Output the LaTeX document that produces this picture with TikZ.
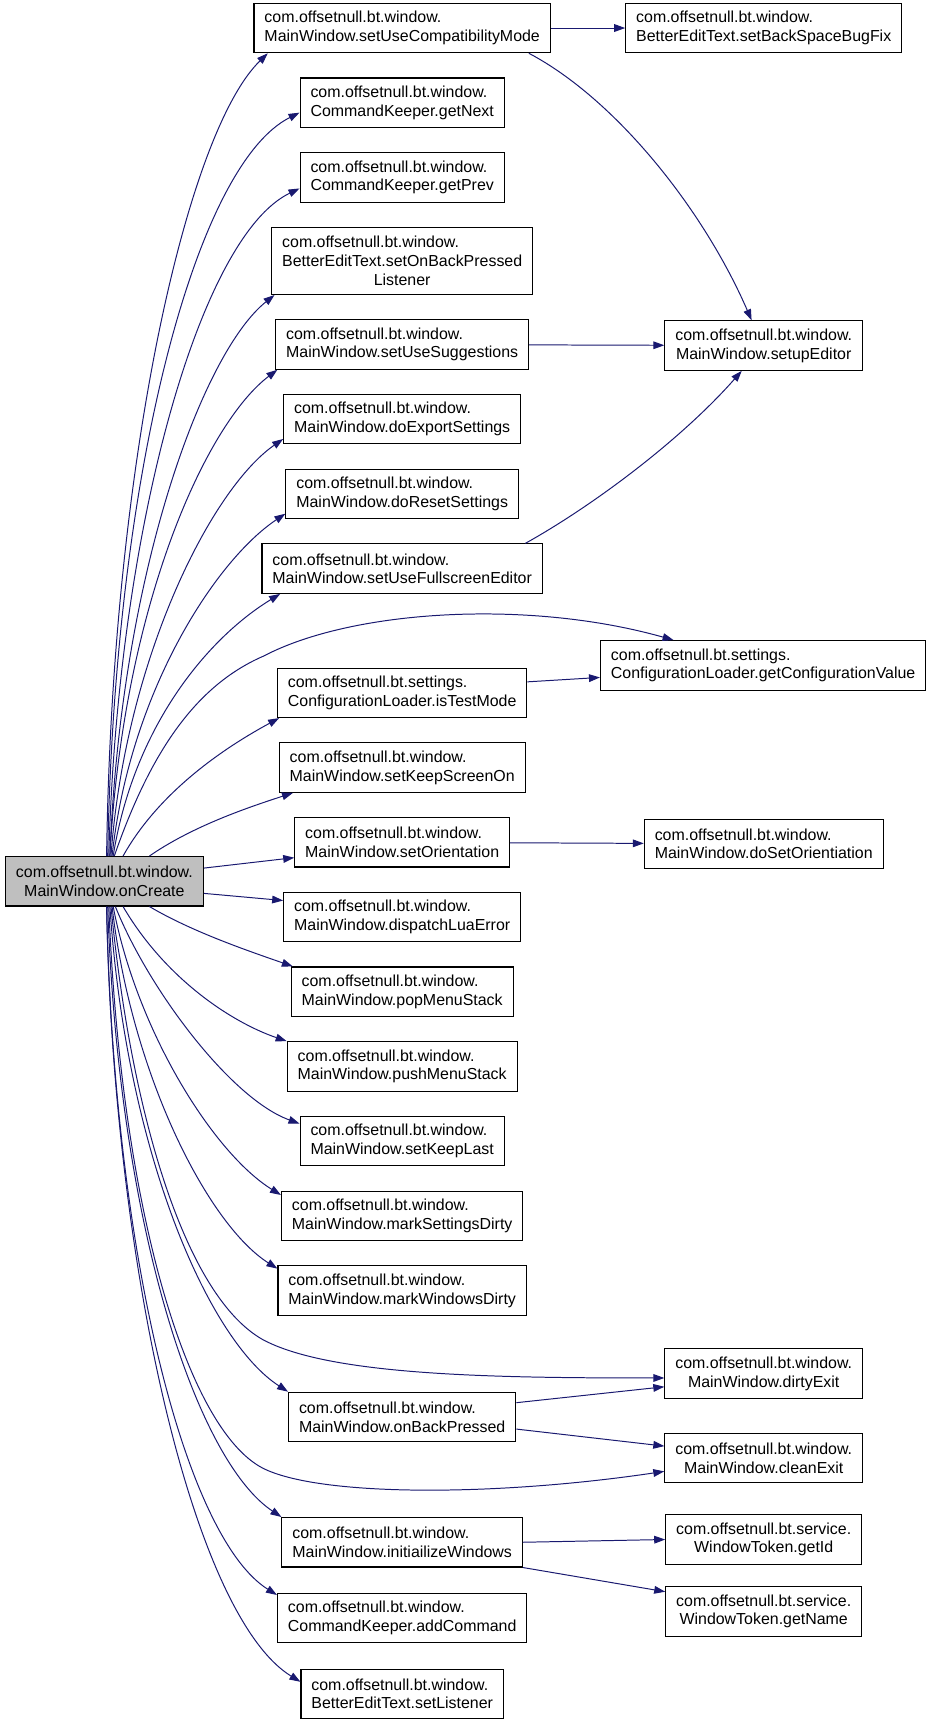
\documentclass[tikz,border=0pt]{standalone}
\usepackage{fontspec}
\setmainfont{Liberation Sans}
\usetikzlibrary{positioning, arrows.meta}
\definecolor{edgeblue}{HTML}{191970}

\begin{document}
\begin{tikzpicture}[
    x=1pt, y=-1pt,
    % uniform gap between the boxes of the middle column
    node distance=22pt,
    box/.style={rectangle, draw, fill=white, line width=1pt, align=left,
        inner xsep=9.5pt, inner ysep=5pt, minimum height=45pt,
        font=\fontsize{14.5}{17}\selectfont},
    cbox/.style={box, align=center},
    root/.style={cbox, fill=gray!50},
    call/.style={-{Triangle[length=10pt,width=7pt]}, draw=edgeblue, line width=0.9pt}
]
    \fill[white] (0,0) rectangle (849,1568);

    \node[root] (main) at (95,802) {com.offsetnull.bt.window.\\MainWindow.onCreate};

    % middle column
    \node[box] (compat) at (366,25.5) {com.offsetnull.bt.window.\\MainWindow.setUseCompatibilityMode};
    \node[box] (getnext) [below=of compat] {com.offsetnull.bt.window.\\CommandKeeper.getNext};
    \node[box] (getprev) [below=of getnext] {com.offsetnull.bt.window.\\CommandKeeper.getPrev};
    \node[cbox, minimum height=61pt] (backlist) [below=of getprev] {\rlap{com.offsetnull.bt.window.}\phantom{BetterEditText.setOnBackPressed}\\BetterEditText.setOnBackPressed\\Listener};
    \node[box] (suggest) [below=of backlist] {com.offsetnull.bt.window.\\MainWindow.setUseSuggestions};
    \node[box] (export) [below=of suggest] {com.offsetnull.bt.window.\\MainWindow.doExportSettings};
    \node[box] (reset) [below=of export] {com.offsetnull.bt.window.\\MainWindow.doResetSettings};
    \node[box] (fullscr) [below=of reset] {com.offsetnull.bt.window.\\MainWindow.setUseFullscreenEditor};
    \node[box] (testmode) [below=67pt of fullscr] {com.offsetnull.bt.settings.\\ConfigurationLoader.isTestMode};
    \node[box] (screenon) [below=of testmode] {com.offsetnull.bt.window.\\MainWindow.setKeepScreenOn};
    \node[box] (orient) [below=of screenon] {com.offsetnull.bt.window.\\MainWindow.setOrientation};
    \node[box] (luaerr) [below=of orient] {com.offsetnull.bt.window.\\MainWindow.dispatchLuaError};
    \node[box] (popmenu) [below=of luaerr] {com.offsetnull.bt.window.\\MainWindow.popMenuStack};
    \node[box] (pushmenu) [below=of popmenu] {com.offsetnull.bt.window.\\MainWindow.pushMenuStack};
    \node[box] (keeplast) [below=of pushmenu] {com.offsetnull.bt.window.\\MainWindow.setKeepLast};
    \node[box] (setdirty) [below=of keeplast] {com.offsetnull.bt.window.\\MainWindow.markSettingsDirty};
    \node[box] (windirty) [below=of setdirty] {com.offsetnull.bt.window.\\MainWindow.markWindowsDirty};
    \node[box] (backpress) [below=69pt of windirty] {com.offsetnull.bt.window.\\MainWindow.onBackPressed};
    \node[box] (initwin) [below=68pt of backpress] {com.offsetnull.bt.window.\\MainWindow.initiailizeWindows};
    \node[box] (addcmd) [below=23pt of initwin] {com.offsetnull.bt.window.\\CommandKeeper.addCommand};
    \node[box] (setlist) [below=23pt of addcmd] {com.offsetnull.bt.window.\\BetterEditText.setListener};

    % right column
    \node[box] (bugfix) at (695,25.5) {com.offsetnull.bt.window.\\BetterEditText.setBackSpaceBugFix};
    \node[cbox] (editor) at (695,314.5) {com.offsetnull.bt.window.\\MainWindow.setupEditor};
    \node[box] (getconf) at (694.5,605.5) {com.offsetnull.bt.settings.\\ConfigurationLoader.getConfigurationValue};
    \node[box] (doorient) at (695,768) {com.offsetnull.bt.window.\\MainWindow.doSetOrientiation};
    \node[cbox] (dirtyexit) at (695,1250) {com.offsetnull.bt.window.\\MainWindow.dirtyExit};
    \node[cbox] (cleanexit) at (695,1327) {com.offsetnull.bt.window.\\MainWindow.cleanExit};
    \node[cbox] (getid) at (695,1401) {com.offsetnull.bt.service.\\WindowToken.getId};
    \node[cbox] (getname) at (695,1466.5) {com.offsetnull.bt.service.\\WindowToken.getName};

    % calls going up
    \draw[call] ([xshift=2pt]main.north) .. controls (102,420) and (170,120) .. ([xshift=13pt]compat.south west);
    \draw[call] ([xshift=3pt]main.north) .. controls (104,430) and (178,150) .. ([yshift=-9pt]getnext.west);
    \draw[call] ([xshift=4pt]main.north) .. controls (107,480) and (182,215) .. ([yshift=-10pt]getprev.west);
    \draw[call] ([xshift=5pt]main.north) .. controls (110,520) and (185,320) .. ([xshift=3pt]backlist.south west);
    \draw[call] ([xshift=5pt]main.north) .. controls (112,550) and (188,385) .. ([xshift=2pt]suggest.south west);
    \draw[call] ([xshift=6pt]main.north) .. controls (114,600) and (192,445) .. ([yshift=5pt]export.south west);
    \draw[call] ([xshift=7pt]main.north) .. controls (118,630) and (196,510) .. ([yshift=5pt]reset.south west);
    \draw[call] ([xshift=8pt]main.north) .. controls (122,660) and (190,580) .. ([xshift=17pt]fullscr.south west);
    \draw[call] ([xshift=9pt]main.north) .. controls (135,690) and (175,625) .. (240,597)
        .. controls (320,555) and (480,545) .. ([xshift=67pt]getconf.north west);
    \draw[call] ([xshift=17pt]main.north) .. controls (145,720) and (205,680) .. ([xshift=2pt]testmode.south west);
    \draw[call] ([xshift=41pt]main.north) .. controls (175,752) and (225,735) .. ([xshift=13pt]screenon.south west);
    \draw[call] ([yshift=12pt]main.east) -- ([yshift=9pt]orient.south west);
    \draw[call] ([yshift=-11pt]main.east) -- ([yshift=-8pt]luaerr.north west);

    % calls going down
    \draw[call] ([xshift=41pt]main.south) .. controls (175,848) and (225,865) .. ([xshift=2pt]popmenu.north west);
    \draw[call] ([xshift=17pt]main.south) .. controls (150,890) and (210,930) .. (pushmenu.north west);
    \draw[call] ([xshift=10pt]main.south) .. controls (135,900) and (210,1000) .. ([yshift=-7pt]keeplast.north west);
    \draw[call] ([xshift=8pt]main.south) .. controls (125,940) and (195,1050) .. ([yshift=-4pt]setdirty.north west);
    \draw[call] ([xshift=7pt]main.south) .. controls (120,980) and (190,1115) .. ([yshift=-3pt]windirty.north west);
    \draw[call] ([xshift=6pt]main.south) .. controls (120,1020) and (170,1180) .. (239,1219)
        .. controls (300,1252) and (450,1254) .. ([yshift=-4pt]dirtyexit.west);
    \draw[call] ([xshift=5pt]main.south) .. controls (115,1050) and (190,1220) .. (backpress.north west);
    \draw[call] ([xshift=4pt]main.south) .. controls (110,1100) and (170,1300) .. (239,1336)
        .. controls (290,1362) and (450,1362) .. ([yshift=-12pt]cleanexit.west);
    \draw[call] ([xshift=3pt]main.south) .. controls (108,1120) and (180,1330) .. (initwin.north west);
    \draw[call] ([xshift=2pt]main.south) .. controls (104,1150) and (170,1400) .. ([yshift=-2pt]addcmd.north west);
    \draw[call] ([xshift=2pt]main.south) .. controls (103,1150) and (175,1470) .. ([yshift=-12pt]setlist.north west);

    % second level
    \draw[call] (compat) -- (bugfix);
    \draw[call] ([xshift=-20pt]compat.south east) .. controls (560,90) and (640,190) .. ([xshift=-11pt]editor.north);
    \draw[call] (suggest) -- (editor);
    \draw[call] ([xshift=-16pt]fullscr.north east) .. controls (540,460) and (620,400) .. ([xshift=-20pt]editor.south);
    \draw[call] ([yshift=10pt]testmode.east) -- ([yshift=-11pt]getconf.west);
    \draw[call] (orient) -- (doorient);
    \draw[call] ([yshift=13pt]backpress.east) -- ([yshift=-12pt]dirtyexit.west);
    \draw[call] ([yshift=-11pt]backpress.east) -- ([yshift=11pt]cleanexit.west);
    \draw[call] (initwin.east) -- (getid.west);
    \draw[call] (initwin.south east) -- ([yshift=-5pt]getname.north west);
\end{tikzpicture}
\end{document}
